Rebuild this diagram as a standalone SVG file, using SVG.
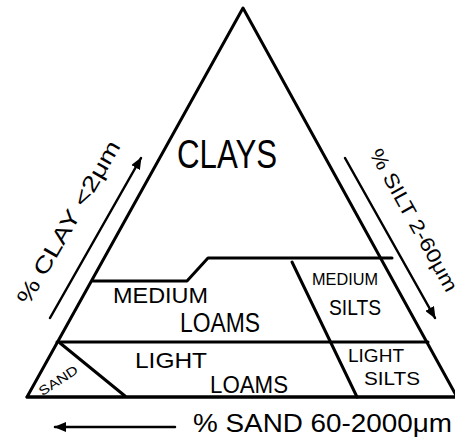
<svg xmlns="http://www.w3.org/2000/svg" width="455" height="442" viewBox="0 0 455 442">
<defs>
<style>
.ln{fill:none;stroke:#000;stroke-width:3;stroke-linecap:round;stroke-linejoin:round}
.ar{fill:none;stroke:#000;stroke-width:2.5;stroke-linecap:round}
.t{font-family:"Liberation Sans","DejaVu Sans",sans-serif;fill:#000}
</style>
<marker id="ah" viewBox="0 0 12 10" refX="11" refY="5" markerWidth="12" markerHeight="10" markerUnits="userSpaceOnUse" orient="auto">
<path d="M0,0 L12,5 L0,10 Z" fill="#000"/>
</marker>
</defs>
<rect width="455" height="442" fill="#fff"/>
<g id="triangle">
<path class="ln" d="M27,397 L243,8 L457,397 Z"/>
<line class="ln" x1="27" y1="397" x2="455" y2="397" stroke-width="3.5"/>
</g>
<g id="boundaries">
<path class="ln" d="M93,281 L187,281 L208,258 L392,258"/>
<line class="ln" x1="57" y1="342" x2="428" y2="342"/>
<line class="ln" x1="292" y1="262" x2="357" y2="397"/>
<line class="ln" x1="60" y1="343" x2="125" y2="396"/>
</g>
<g id="connectors">
<line class="ar" x1="50" y1="318" x2="141" y2="158" marker-end="url(#ah)"/>
<line class="ar" x1="345" y1="158" x2="435" y2="318" marker-end="url(#ah)"/>
<line class="ar" x1="175" y1="427" x2="55" y2="427" marker-end="url(#ah)"/>
</g>
<g id="clays"><text class="t" x="177" y="168" font-size="40" textLength="100" lengthAdjust="spacingAndGlyphs">CLAYS</text></g>
<g id="medium-loams">
<text class="t" x="113" y="303" font-size="22" textLength="95" lengthAdjust="spacingAndGlyphs">MEDIUM</text>
<text class="t" x="180" y="332" font-size="27" textLength="80" lengthAdjust="spacingAndGlyphs">LOAMS</text>
</g>
<g id="medium-silts">
<text class="t" x="312" y="285" font-size="17" textLength="66" lengthAdjust="spacingAndGlyphs">MEDIUM</text>
<text class="t" x="329" y="315" font-size="22" textLength="52" lengthAdjust="spacingAndGlyphs">SILTS</text>
</g>
<g id="light-loams">
<text class="t" x="135" y="368" font-size="22" textLength="72" lengthAdjust="spacingAndGlyphs">LIGHT</text>
<text class="t" x="210" y="393" font-size="24" textLength="78" lengthAdjust="spacingAndGlyphs">LOAMS</text>
</g>
<g id="light-silts">
<text class="t" x="348" y="362" font-size="18" textLength="56" lengthAdjust="spacingAndGlyphs">LIGHT</text>
<text class="t" x="364" y="385" font-size="19" textLength="56" lengthAdjust="spacingAndGlyphs">SILTS</text>
</g>
<g id="sand">
<text class="t" transform="translate(58,380) rotate(-33)" x="0" y="5" font-size="13" text-anchor="middle" textLength="44" lengthAdjust="spacingAndGlyphs">SAND</text>
</g>
<g id="axis-labels">
<text class="t" transform="translate(68,222) rotate(-60)" x="0" y="8" font-size="22" text-anchor="middle" textLength="185" lengthAdjust="spacingAndGlyphs">% CLAY &lt;2μm</text>
<text class="t" transform="translate(414,220) rotate(61)" x="0" y="7" font-size="20" text-anchor="middle" textLength="160" lengthAdjust="spacingAndGlyphs">% SILT 2-60μm</text>
<text class="t" x="193" y="432" font-size="26" textLength="259" lengthAdjust="spacingAndGlyphs">% SAND 60-2000μm</text>
</g>
</svg>
